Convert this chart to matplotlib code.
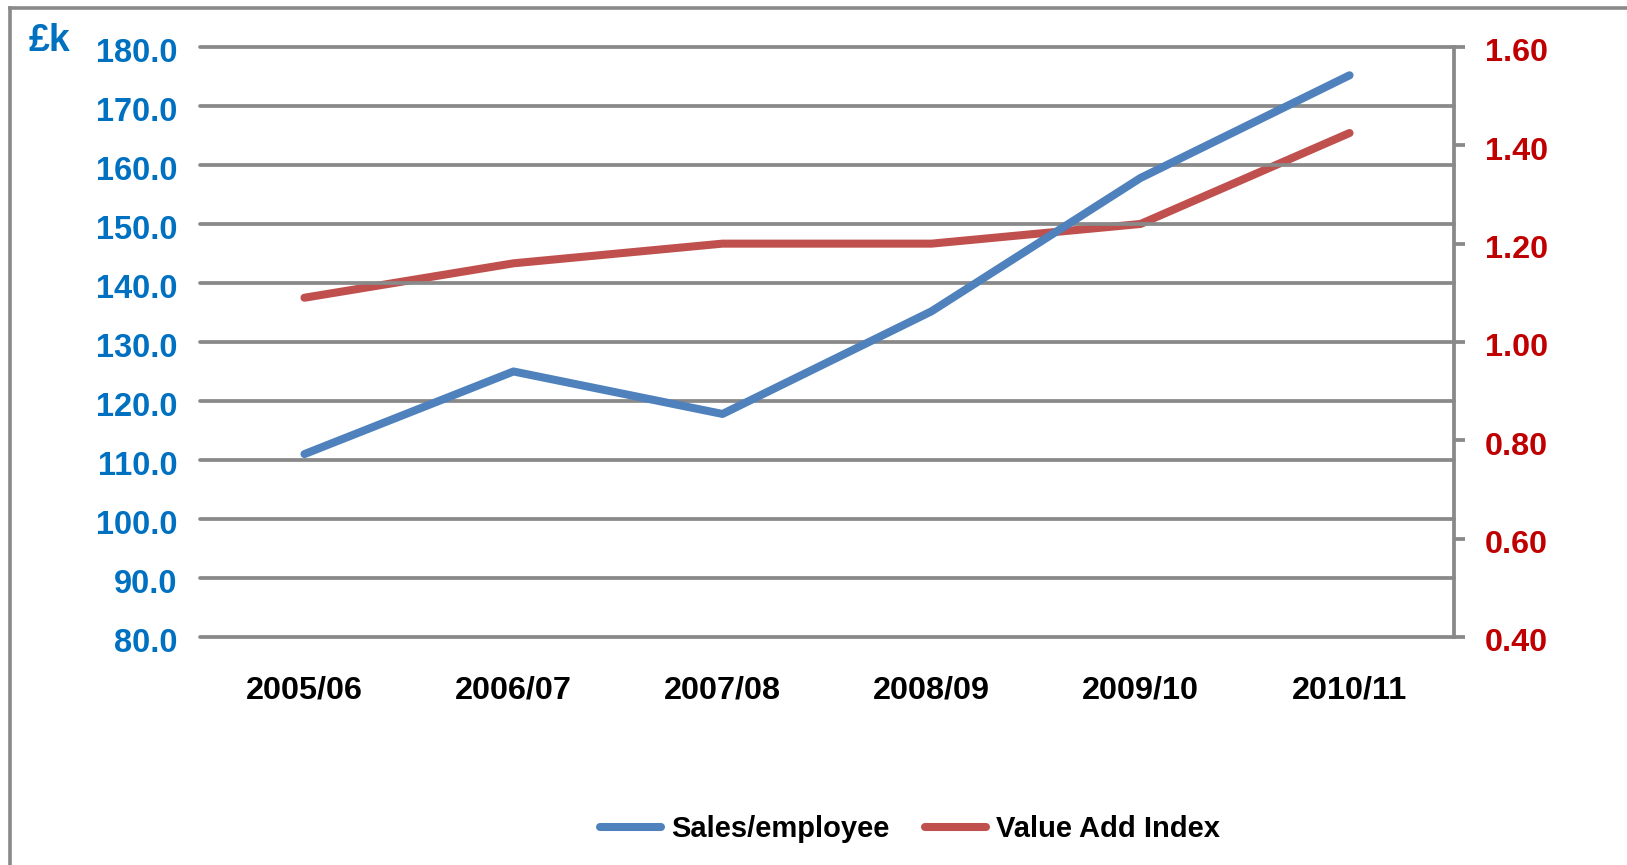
import numpy as np
import matplotlib.pyplot as plt
import matplotlib.transforms as mtransforms
from matplotlib.lines import Line2D

plt.rcParams['font.family'] = ['Liberation Sans', 'DejaVu Sans']
plt.rcParams['font.weight'] = 'bold'

years = ['2005/06', '2006/07', '2007/08', '2008/09', '2009/10', '2010/11']
sales_per_employee = [111.0, 125.0, 117.8, 135.2, 157.8, 175.2]
value_add_index = [1.09, 1.16, 1.20, 1.20, 1.24, 1.425]

left_ticks = [80, 90, 100, 110, 120, 130, 140, 150, 160, 170, 180]
right_ticks = [0.40, 0.60, 0.80, 1.00, 1.20, 1.40, 1.60]

blue = '#4F81BD'
red = '#C0504D'
grey = '#898989'
blue_txt = '#0070C0'
red_txt = '#C00000'

fig = plt.figure(figsize=(16.27, 8.65), dpi=100)
ax = fig.add_axes([0.1229, 0.2636, 0.8937 - 0.1229, 0.9457 - 0.2636])
ax2 = ax.twinx()

x = np.arange(len(years))

ax.set_xlim(-0.5, len(years) - 0.5)
ax.set_ylim(80, 180)
ax.set_yticks(left_ticks)
ax.set_yticklabels([f'{v:.1f}' for v in left_ticks])
ax.set_xticks(x)
ax.set_xticklabels(years)
ax.tick_params(axis='y', length=0, pad=16, labelsize=23.5, labelcolor=blue_txt)
ax.tick_params(axis='x', length=0, pad=28, labelsize=23.3, labelcolor='black')
for lab in ax.get_xticklabels() + ax.get_yticklabels():
    lab.set_fontweight('bold')
for s in ax.spines.values():
    s.set_visible(False)
for v in left_ticks:
    ax.axhline(v, color=grey, lw=2.7, solid_capstyle='round', zorder=1,
               clip_on=False)

ax2.set_ylim(0.40, 1.60)
ax2.set_yticks(right_ticks)
ax2.set_yticklabels([f'{v:.2f}' for v in right_ticks])
ax2.tick_params(axis='y', length=8, width=2.7, color=grey, pad=14,
                labelsize=23.3, labelcolor=red_txt)
for lab in ax2.get_yticklabels():
    lab.set_fontweight('bold')
for name, s in ax2.spines.items():
    s.set_visible(name == 'right')
ax2.spines['right'].set_color(grey)
ax2.spines['right'].set_linewidth(2.7)

# nudge value labels a little below their gridlines
shift = mtransforms.ScaledTranslation(0, -3 / 100, fig.dpi_scale_trans)
for lab in ax.get_yticklabels() + ax2.get_yticklabels():
    lab.set_transform(lab.get_transform() + shift)

ax2.plot(x, value_add_index, color=red, lw=5.8, solid_capstyle='round',
         solid_joinstyle='round', zorder=3)
ax.set_zorder(ax2.get_zorder() + 1)
ax.patch.set_visible(False)
ax.plot(x, sales_per_employee, color=blue, lw=5.8, solid_capstyle='round',
        solid_joinstyle='round', zorder=3)

fig.text(29 / 1627, 1 - 41 / 865, '£k', color=blue_txt, fontsize=27,
         fontweight='bold', va='center', ha='left')

# outer chart border (left and top edges)
fig.add_artist(Line2D([10 / 1627, 10 / 1627], [0, 1 - 7.5 / 865],
                      transform=fig.transFigure, color=grey, lw=2.6))
fig.add_artist(Line2D([10 / 1627, 1], [1 - 7.5 / 865, 1 - 7.5 / 865],
                      transform=fig.transFigure, color=grey, lw=2.6))

handles = [Line2D([], [], color=blue, lw=5.8, solid_capstyle='round'),
           Line2D([], [], color=red, lw=5.8, solid_capstyle='round')]
fig.legend(handles, ['Sales/employee', 'Value Add Index'], loc='center',
           bbox_to_anchor=(910 / 1627, 1 - 829 / 865), ncol=2, frameon=False,
           prop={'size': 21, 'weight': 'bold'}, handlelength=2.1,
           handletextpad=0.35, columnspacing=1.2)

fig.savefig('out.png', dpi=100, facecolor='white')
